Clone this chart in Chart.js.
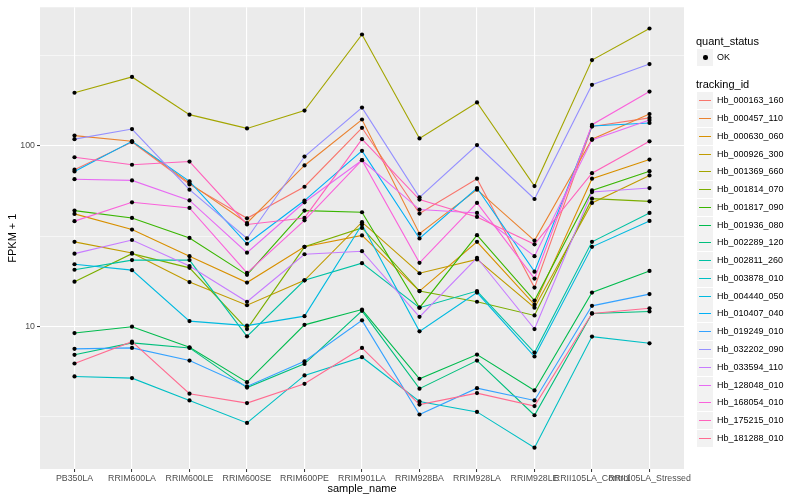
<!DOCTYPE html>
<html><head><meta charset="utf-8">
<script src="https://cdn.jsdelivr.net/npm/chart.js@4.4.1/dist/chart.umd.min.js"></script>
<style>
body{margin:0;background:#fff;font-family:"Liberation Sans",Arial,sans-serif;}
#wrap{position:relative;width:800px;height:500px;overflow:hidden;}
#c{position:absolute;left:0;top:0;}
.t{position:absolute;white-space:nowrap;line-height:1;}
.ttl{font-size:11px;color:#000;}
.lab{font-size:9px;color:#000;}
.key{position:absolute;width:16px;height:17px;background:#F2F2F2;}
.seg{position:absolute;left:2px;width:12px;height:1.5px;top:7.75px;}
.dot{position:absolute;left:6px;top:6px;width:4.5px;height:4.5px;border-radius:50%;background:#000;}
</style></head><body>
<div id="wrap"><canvas id="c" width="800" height="500"></canvas><div id="legend"></div></div>
<script>
const categories = ["PB350LA","RRIM600LA","RRIM600LE","RRIM600SE","RRIM600PE","RRIM901LA","RRIM928BA","RRIM928LA","RRIM928LE","RRII105LA_Control","RRII105LA_Stressed"];
const trackingIds = ["Hb_000163_160","Hb_000457_110","Hb_000630_060","Hb_000926_300","Hb_001369_660","Hb_001814_070","Hb_001817_090","Hb_001936_080","Hb_002289_120","Hb_002811_260","Hb_003878_010","Hb_004440_050","Hb_010407_040","Hb_019249_010","Hb_032202_090","Hb_033594_110","Hb_128048_010","Hb_168054_010","Hb_175215_010","Hb_181288_010"];
const seriesColors = ["#F8766D","#EA8331","#D89000","#C09B00","#A3A500","#7CAE00","#39B600","#00BB4E","#00BF7D","#00C1A3","#00BFC4","#00BAE0","#00B0F6","#35A2FF","#9590FF","#C77CFF","#E76BF3","#FA62DB","#FF62BC","#FF6C91"];

// FPKM + 1 values per tracking id, one per sample
const hb000163_160 = [73.8,105,61.2,39.7,59.4,126,42.2,65.8,16.4,128,143];
const hb000457_110 = [114,106,62.2,37.4,77.9,140,32.6,57.2,29.9,109,150];
const hb000630_060 = [42.0,34.4,24.5,17.5,27.6,31.9,15.7,29.4,13.2,65.8,84.0];
const hb000926_300 = [29.4,25.5,17.6,13.1,18.0,37.8,19.7,23.5,12.7,48.3,68.6];
const hb001369_660 = [197,241,149,125,157,414,110,174,59.9,299,447];
const hb001814_070 = [17.7,25.3,21.1,9.67,27.6,35.1,15.7,13.7,11.5,51.0,49.3];
const hb001817_090 = [43.8,39.9,30.9,19.3,43.8,42.9,12.7,32.0,13.9,56.7,72.4];
const hb001936_080 = [9.19,9.96,7.66,4.91,10.2,12.4,5.13,6.98,4.42,15.4,20.3];
const hb002289_120 = [6.96,8.10,7.60,4.58,6.20,12.2,4.52,6.47,3.22,11.8,12.1];
const hb002811_260 = [20.6,23.3,23.3,8.81,18.0,22.4,12.7,15.7,7.16,29.4,42.5];
const hb003878_010 = [5.28,5.17,3.89,2.92,5.35,6.75,3.84,3.36,2.13,8.78,8.06];
const hb004440_050 = [22.1,20.5,10.7,10.1,11.4,36.7,9.39,15.4,6.81,27.6,38.4];
const hb010407_040 = [72.2,106,63.6,28.7,49.8,93.9,30.7,58.4,20.1,129,134];
const hb019249_010 = [7.51,7.60,6.47,4.65,6.41,10.8,3.25,4.55,3.89,13.0,15.1];
const hb032202_090 = [109,124,57.2,30.7,87.3,163,51.9,101,50.8,218,284];
const hb033594_110 = [25.3,30.1,21.6,13.7,25.1,26.1,11.3,24.0,9.67,55.5,58.4];
const hb128048_010 = [65.4,64.4,49.9,25.6,48.7,83.3,44.4,42.5,24.5,108,139];
const hb168054_010 = [38.3,48.7,45.3,19.8,38.7,83.3,22.5,48.3,18.4,131,200];
const hb175215_010 = [86.5,78.6,81.9,36.7,39.9,109,50.4,40.4,28.5,70.6,106];
const hb181288_010 = [6.23,8.23,4.24,3.76,4.81,7.60,3.69,4.27,3.62,11.8,12.6];

const yMajorTicks = [10, 100];
const yMinorTicks = [3.162, 31.62, 316.2];
const yLimits = [1.622, 586];

const seriesValues = [hb000163_160,hb000457_110,hb000630_060,hb000926_300,hb001369_660,hb001814_070,hb001817_090,hb001936_080,hb002289_120,hb002811_260,hb003878_010,hb004440_050,hb010407_040,hb019249_010,hb032202_090,hb033594_110,hb128048_010,hb168054_010,hb175215_010,hb181288_010];

const FAM = "'Liberation Sans', Arial, sans-serif";
Chart.defaults.font.family = FAM;

const datasets = seriesValues.map((vals, i) => ({
  type: 'line',
  label: trackingIds[i],
  data: vals.map((v, j) => ({x: j, y: v})),
  borderColor: seriesColors[i],
  backgroundColor: seriesColors[i],
  borderWidth: 1.1,
  pointRadius: 0,
  fill: false,
  tension: 0,
  order: seriesValues.length - i
}));
const allPoints = [];
seriesValues.forEach(vals => vals.forEach((v, j) => allPoints.push({x: j, y: v})));
datasets.push({
  type: 'scatter', label: 'OK', data: allPoints,
  pointRadius: 2.1, pointBackgroundColor: '#000', pointBorderWidth: 0, showLine: false, order: -1
});

const bgPlugin = {
  id: 'panelbg',
  beforeDraw(chart) {
    const {ctx, chartArea: a} = chart;
    ctx.save(); ctx.fillStyle = '#EBEBEB';
    ctx.fillRect(a.left, a.top, a.right - a.left, a.bottom - a.top);
    ctx.restore();
  }
};

new Chart(document.getElementById('c'), {
  data: {datasets},
  plugins: [bgPlugin],
  options: {
    responsive: false, animation: false, devicePixelRatio: 1,
    layout: {padding: {left: 0, top: 5, right: 116, bottom: 0}},
    plugins: {legend: {display: false}, tooltip: {enabled: false}},
    scales: {
      x: {
        type: 'linear', min: -0.6, max: 10.6,
        afterBuildTicks: s => { s.ticks = categories.map((_, i) => ({value: i})); },
        afterFit: s => { s.height = 31; },
        border: {display: false},
        grid: {color: '#FFFFFF', lineWidth: 1.1, drawTicks: true, tickLength: 3, tickColor: '#333333', tickWidth: 1},
        ticks: {autoSkip: false, maxRotation: 0, minRotation: 0, color: '#4D4D4D', padding: 1,
          font: {size: 8.8, family: FAM}, callback: v => categories[v]},
        title: {display: true, text: 'sample_name', color: '#000', font: {size: 11, family: FAM}, padding: {top: 0, bottom: 4}}
      },
      y: {
        type: 'logarithmic', min: yLimits[0], max: yLimits[1],
        afterBuildTicks: s => { s.ticks = yMinorTicks.concat(yMajorTicks).sort((a, b) => a - b).map(v => ({value: v})); },
        afterFit: s => { s.width = 40; },
        border: {display: false},
        grid: {
          color: '#FFFFFF',
          lineWidth: c => (c.tick && yMajorTicks.includes(c.tick.value)) ? 1.1 : 0.55,
          drawTicks: true, tickLength: 3, tickWidth: 1,
          tickColor: c => (c.tick && yMajorTicks.includes(c.tick.value)) ? '#333333' : 'rgba(0,0,0,0)'
        },
        ticks: {color: '#4D4D4D', padding: 2, font: {size: 8.8, family: FAM},
          callback: v => yMajorTicks.includes(v) ? String(v) : ''},
        title: {display: true, text: 'FPKM + 1', color: '#000', font: {size: 11, family: FAM}, padding: {top: 6, bottom: 0}}
      }
    }
  }
});

// ggplot-style legend
const lg = document.getElementById('legend');
function add(html) { lg.insertAdjacentHTML('beforeend', html); }
add(`<div class="t ttl" style="left:696px;top:36px">quant_status</div>`);
add(`<div class="key" style="left:697px;top:49px"><div class="dot"></div></div>`);
add(`<div class="t lab" style="left:717px;top:53px">OK</div>`);
add(`<div class="t ttl" style="left:696px;top:79px">tracking_id</div>`);
trackingIds.forEach((id, i) => {
  const cy = 100.7 + i * 17.77;
  const top = Math.round(cy - 8.5);
  add(`<div class="key" style="left:697px;top:${top}px"><div class="seg" style="background:${seriesColors[i]}"></div></div>`);
  add(`<div class="t lab" style="left:717px;top:${top + 4}px">${id}</div>`);
});
</script>
</body></html>
